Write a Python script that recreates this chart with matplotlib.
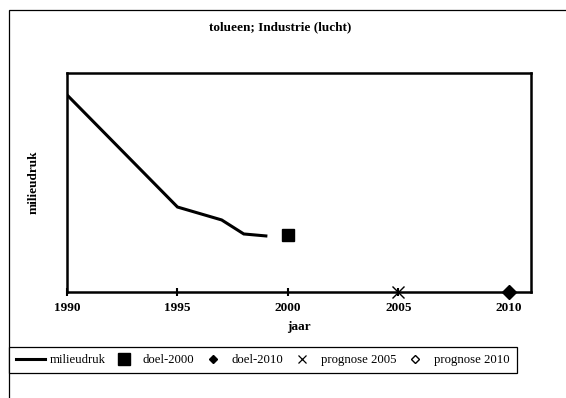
import matplotlib
matplotlib.use("Agg")
import matplotlib.pyplot as plt
from matplotlib.patches import Rectangle
from matplotlib.lines import Line2D

# Emission index for toluene, industry (air)
years = [1990, 1995, 1997, 1998, 1999]
milieudruk = [90.0, 38.8, 32.9, 26.5, 25.6]

doel_2000_year = [2000]
doel_2000 = [26.0]
doel_2010_year = [2010]
doel_2010 = [0.0]
prognose_2005_year = [2005]
prognose_2005 = [0.0]
prognose_2010_year = [2010]
prognose_2010 = [0.0]

xticks = [1990, 1995, 2000, 2005, 2010]

plt.rcParams['font.family'] = ['Liberation Serif', 'DejaVu Serif']

W, H = 566, 398
fig = plt.figure(figsize=(W / 100, H / 100), dpi=100)

# outer chart frame (runs off the right and bottom edges)
fig.patches.append(Rectangle((9 / W, -0.2), 1.2, 1.2 - 10 / H,
                             transform=fig.transFigure, fill=False,
                             edgecolor='black', linewidth=0.9))

left, right, top, bottom = 67, 531, 73, 292
ax = fig.add_axes([left / W, 1 - bottom / H, (right - left) / W, (bottom - top) / H])

ax.plot(years, milieudruk, color='black', linewidth=2.2, solid_joinstyle='miter')
ax.plot(doel_2000_year, doel_2000, linestyle='none', marker='s', markersize=8,
        color='black', clip_on=False)
ax.plot(prognose_2005_year, prognose_2005, linestyle='none', marker='x', markersize=8,
        color='black', markeredgewidth=1.0, clip_on=False)
ax.plot(prognose_2010_year, prognose_2010, linestyle='none', marker='D', markersize=6,
        markerfacecolor='white', markeredgecolor='black', clip_on=False)
ax.plot(doel_2010_year, doel_2010, linestyle='none', marker='D', markersize=7,
        color='black', clip_on=False, zorder=5)

ax.set_xlim(1990, 2011)
ax.set_ylim(0, 100)
ax.set_xticks(xticks)
ax.set_xticklabels([str(t) for t in xticks], fontweight='bold', fontsize=9.5)
ax.set_yticks([])
ax.tick_params(axis='x', direction='inout', length=6, width=1.5, pad=4)
for s in ax.spines.values():
    s.set_linewidth(1.8)
    s.set_color('black')

ax.set_xlabel('jaar', fontweight='bold', fontsize=9.5, labelpad=5)
ax.set_ylabel('milieudruk', fontweight='bold', fontsize=9.5, labelpad=20)

fig.text(280 / W, 1 - 27 / H, 'tolueen; Industrie (lucht)', ha='center', va='center',
         fontweight='bold', fontsize=9.5)

handles = [
    Line2D([], [], color='black', linewidth=2.2),
    Line2D([], [], linestyle='none', marker='s', markersize=8, color='black'),
    Line2D([], [], linestyle='none', marker='D', markersize=4.5, color='black'),
    Line2D([], [], linestyle='none', marker='x', markersize=6, color='black', markeredgewidth=0.9),
    Line2D([], [], linestyle='none', marker='D', markersize=4.5, markerfacecolor='white',
           markeredgecolor='black'),
]
labels = ['milieudruk', 'doel-2000', 'doel-2010', 'prognose 2005', 'prognose 2010']
leg = fig.legend(handles, labels, ncol=5, loc='upper left',
                 bbox_to_anchor=(9 / W, 1 - 347 / H), borderaxespad=0,
                 fancybox=False, framealpha=1, edgecolor='black',
                 fontsize=9.2, handlelength=2.3, handletextpad=0.3, columnspacing=0.33,
                 borderpad=0.55)
leg.get_frame().set_linewidth(0.9)

fig.savefig('out.png', dpi=100)
